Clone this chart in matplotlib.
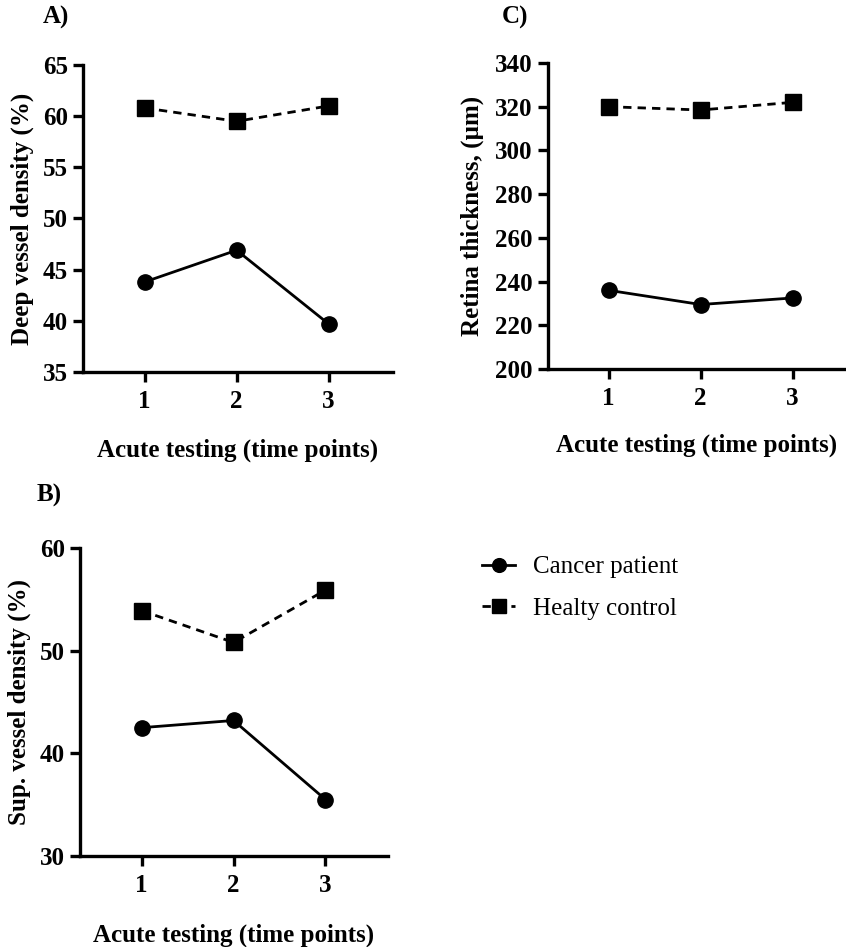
import matplotlib.pyplot as plt
from matplotlib.ticker import MultipleLocator

# time points
time_points = [1, 2, 3]

# A) deep vessel density (%)
deep_cancer = [43.8, 46.9, 39.7]
deep_control = [60.8, 59.5, 61.0]

# B) superficial vessel density (%)
sup_cancer = [42.5, 43.2, 35.5]
sup_control = [53.9, 50.8, 55.9]

# C) retina thickness (um)
retina_cancer = [236.0, 229.5, 232.5]
retina_control = [320.0, 318.5, 322.0]

W, H = 846, 947
FS = 18
plt.rcParams['font.family'] = ['Liberation Serif', 'DejaVu Serif']


def px_axes(fig, left, right, top, bottom):
    return fig.add_axes([left / W, 1 - bottom / H, (right - left) / W, (bottom - top) / H])


def panel(ax, cancer, control, ylim, ystep, xlim, ylabel, ylab_x, xlab_y):
    ax.plot(time_points, cancer, color='black', lw=2.0, marker='o', ms=11,
            label='Cancer patient')
    ax.plot(time_points, control, color='black', lw=2.0, ls=(0, (3, 2.2)), marker='s', ms=11,
            label='Healty control')
    ax.set_xlim(*xlim)
    ax.set_ylim(*ylim)
    ax.yaxis.set_major_locator(MultipleLocator(ystep))
    ax.set_xticks(time_points)
    for s in ['top', 'right']:
        ax.spines[s].set_visible(False)
    for s in ['left', 'bottom']:
        ax.spines[s].set_linewidth(2.4)
    ax.tick_params(axis='both', width=2.4, length=7, labelsize=FS, pad=4)
    ax.tick_params(axis='x', pad=6)
    for lab in ax.get_xticklabels() + ax.get_yticklabels():
        lab.set_fontweight('bold')
    ax.set_ylabel(ylabel, fontsize=FS, fontweight='bold')
    ax.set_xlabel('Acute testing (time points)', fontsize=FS, fontweight='bold')
    ax.yaxis.set_label_coords(ylab_x, 0.5)
    ax.xaxis.set_label_coords(0.5, xlab_y)
    ax.patch.set_alpha(0)


fig = plt.figure(figsize=(W / 100, H / 100), dpi=100)

ax_a = px_axes(fig, 83, 393, 65, 372)
panel(ax_a, deep_cancer, deep_control, (35, 65), 5, (0.33, 3.7),
      'Deep vessel density (%)', -0.158, -0.218)

ax_c = px_axes(fig, 548, 846, 63, 369)
panel(ax_c, retina_cancer, retina_control, (200, 340), 20, (0.34, 3.58),
      'Retina thickness, (\u00b5m)', -0.215, -0.212)

ax_b = px_axes(fig, 80, 388, 548, 856)
panel(ax_b, sup_cancer, sup_control, (30, 60), 10, (0.33, 3.68),
      'Sup. vessel density (%)', -0.159, -0.221)

fig.text(43 / W, 1 - 17 / H, 'A)', fontsize=FS, fontweight='bold', va='center')
fig.text(502 / W, 1 - 17 / H, 'C)', fontsize=FS, fontweight='bold', va='center')
fig.text(37 / W, 1 - 495 / H, 'B)', fontsize=FS, fontweight='bold', va='center')

handles, labels = ax_b.get_legend_handles_labels()
fig.legend(handles, labels, loc='upper left', bbox_to_anchor=(482 / W, 1 - 556 / H),
           frameon=False, fontsize=FS, handlelength=1.32, handletextpad=0.72,
           labelspacing=0.75, borderaxespad=0, borderpad=0, markerscale=0.9)

fig.savefig('out.png', dpi=100)
